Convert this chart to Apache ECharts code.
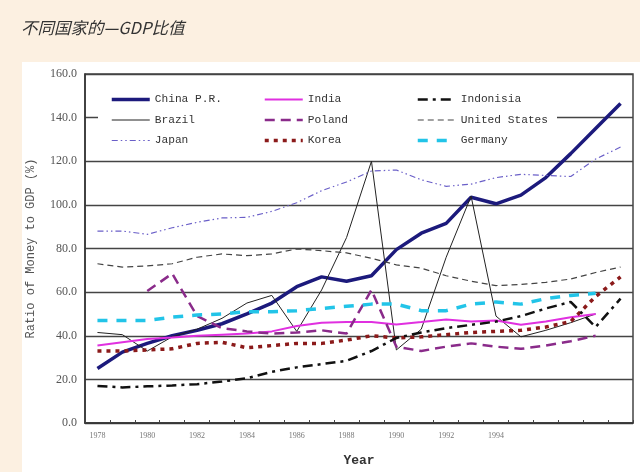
<!DOCTYPE html>
<html>
<head>
<meta charset="utf-8">
<script src="https://cdn.jsdelivr.net/npm/echarts@6/dist/echarts.min.js"></script>
<style>
html,body{margin:0;padding:0;background:#fcf0e1;width:640px;height:472px;overflow:hidden}
#paper{position:absolute;left:22px;top:62px;width:618px;height:410px;background:#fff}
#c{position:absolute;left:0;top:0;width:640px;height:472px}
</style>
</head>
<body>
<div id="paper"></div>
<div id="c"></div>
<script>
var years = ['1978','1979','1980','1981','1982','1983','1984','1985','1986','1987','1988',
             '1989','1990','1991','1992','1993','1994','1995','1996','1997','1998','1999'];
var lastLabelYear = 1994;
var yTicks = [0, 20, 40, 60, 80, 100, 120, 140, 160];

var china     = [25, 32.5, 36.5, 40, 42.5, 45.5, 50, 55, 62.5, 67, 65, 67.5, 79.5, 87, 91.5, 103.5, 100.5, 104.5, 112.5, 123.5, 135, 146.5];
var brazil    = [41.5, 40.5, 33, 39.5, 43, 48, 55, 58.5, 42, 61, 85, 120, 33.5, 43, 76, 104, 49, 39.5, 42.5, 46, 50, null];
var japan     = [88, 88, 86.5, 89.5, 92, 94, 94.3, 97, 101, 106.5, 110.5, 115.5, 116, 111.5, 108.5, 109.5, 112.5, 114, 113.5, 113, 121, 126.5];
var india     = [35.5, 37, 38.5, 39.2, 40, 40.5, 41, 42, 44.5, 46, 46.3, 46.3, 45.2, 46.3, 47.5, 46.5, 47, 45, 46.5, 48.5, 50, null];
var poland    = [null, null, 60.5, 68.5, 49, 43.5, 42, 41, 41.5, 42.5, 41, 61, 35, 33, 35, 36.5, 35, 34, 35.5, 37.5, 40, null];
var korea     = [33, 33, 33.5, 34, 36.5, 37, 34.5, 35.5, 36.5, 36.5, 38, 40, 39, 39.5, 40.5, 41.5, 42, 42.5, 44, 46.5, 58, 67];
var indonesia = [17, 16.3, 16.8, 17.2, 17.8, 19, 20.5, 23.5, 25.5, 27, 28.5, 33, 39, 41.5, 43.5, 45, 46.5, 49, 52.5, 55.5, 44, 57];
var us        = [73, 71.5, 72, 73, 76, 77.5, 76.7, 77.5, 79.8, 79, 78, 75.5, 72.5, 71, 67.5, 65, 63, 63.5, 64.5, 66, 69, 71.5];
var germany   = [47, 47, 47, 48.5, 49.5, 50, 51, 51, 51.5, 52.5, 53.5, 54.5, 54.5, 51.5, 51.5, 54.5, 55.5, 54.5, 57, 58.5, 59.5, null];

var styles = {
  'China P.R.':    {color: '#1c1a7c', width: 3.5, type: 'solid'},
  'Brazil':        {color: '#222222', width: 1,   type: 'solid'},
  'Japan':         {color: '#6a5fc8', width: 1.2, type: [6, 3, 1.5, 3, 1.5, 3]},
  'India':         {color: '#e030e0', width: 2,   type: 'solid'},
  'Poland':        {color: '#8a2b8a', width: 2.5, type: [10, 6]},
  'Korea':         {color: '#8b1a1a', width: 3.5, type: [4, 5]},
  'Indonisia':     {color: '#111111', width: 2.5, type: [10, 5, 3, 5]},
  'United States': {color: '#444444', width: 1.2, type: [6, 4]},
  'Germany':       {color: '#22c4e8', width: 3.5, type: [10, 9]}
};

function mk(name, data) {
  var s = styles[name];
  return {
    name: name, type: 'line', data: data, symbol: 'none', connectNulls: false,
    lineStyle: {color: s.color, width: s.width, type: s.type},
    itemStyle: {color: s.color}
  };
}

var series = [
  mk('China P.R.', china), mk('Brazil', brazil), mk('Japan', japan),
  mk('India', india), mk('Poland', poland), mk('Korea', korea),
  mk('Indonisia', indonesia), mk('United States', us), mk('Germany', germany)
];

var legendText = {fontFamily: 'Liberation Mono', fontSize: 11.2, color: '#333'};
function lg(left, names) {
  return {
    orient: 'vertical', left: left, top: 94, padding: 0,
    itemWidth: 38, itemHeight: 12, itemGap: 9.5,
    textStyle: legendText, selectedMode: false,
    itemStyle: {color: 'rgba(0,0,0,0)', borderColor: 'rgba(0,0,0,0)', borderWidth: 0, opacity: 0},
    data: names.map(function (n) {
      var s = styles[n];
      return {name: n, lineStyle: {color: s.color, width: s.width, type: s.type}};
    })
  };
}

var chart = echarts.init(document.getElementById('c'), null, {renderer: 'canvas'});
chart.setOption({
  animation: false,
  title: {
    text: '不同国家的—GDP比值', left: 16, top: 14,
    textStyle: {fontFamily: 'Noto Sans CJK SC', fontStyle: 'italic', fontWeight: 'normal', fontSize: 16.5, color: '#333'}
  },
  grid: {left: 85, right: 7, top: 74, bottom: 47, show: true, borderColor: '#444', borderWidth: 1.5, containLabel: false},
  graphic: [{
    type: 'rect', z: 1,
    shape: {x: 98, y: 84, width: 459, height: 72},
    style: {fill: '#ffffff'}
  }],
  legend: [
    lg(110, ['China P.R.', 'Brazil', 'Japan']),
    lg(263, ['India', 'Poland', 'Korea']),
    lg(416, ['Indonisia', 'United States', 'Germany'])
  ],
  xAxis: {
    type: 'category', data: years, boundaryGap: true,
    name: 'Year', nameLocation: 'middle', nameGap: 31,
    nameTextStyle: {fontFamily: 'Liberation Mono', fontWeight: 'bold', fontSize: 13, color: '#333'},
    axisLine: {lineStyle: {color: '#333', width: 1.5}},
    axisTick: {show: true, inside: true, length: 3, interval: 0, lineStyle: {color: '#444'}},
    axisLabel: {
      interval: 1, margin: 9, fontFamily: 'Liberation Serif', fontSize: 8, color: '#777',
      formatter: function (v) { return (+v <= lastLabelYear) ? v : ''; }
    },
    splitLine: {show: false}
  },
  yAxis: {
    type: 'value', min: yTicks[0], max: yTicks[yTicks.length - 1], interval: 20,
    name: 'Ratio of Money to GDP (%)', nameLocation: 'middle', nameGap: 48, nameRotate: 90,
    nameTextStyle: {fontFamily: 'Liberation Mono', fontSize: 12, color: '#555'},
    axisLine: {show: true, lineStyle: {color: '#333', width: 1.5}},
    axisTick: {show: false},
    axisLabel: {
      margin: 8, fontFamily: 'Liberation Serif', fontSize: 12, color: '#555',
      formatter: function (v) { return v.toFixed(1); }
    },
    splitLine: {show: true, lineStyle: {color: '#444', width: 1.3}}
  },
  series: series
});
</script>
</body>
</html>
